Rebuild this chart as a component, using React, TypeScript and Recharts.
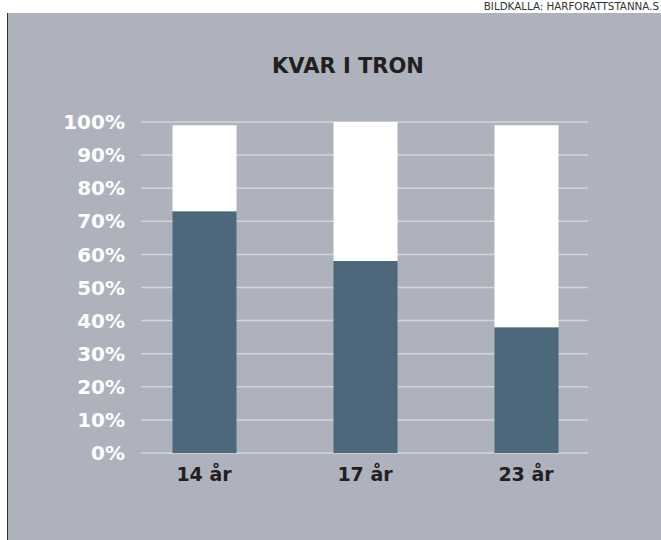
import { Bar, BarChart, CartesianGrid, XAxis, YAxis } from "recharts"

const ages = ["14 år", "17 år", "23 år"]
const kvar = [73, 58, 38]
const rest = [26, 42, 61]
const yTicks = [0, 10, 20, 30, 40, 50, 60, 70, 80, 90, 100]

const data = ages.map((age, i) => ({ age, kvar: kvar[i], rest: rest[i] }))

const font = "'DejaVu Sans', sans-serif"

export default function App() {
  return (
    <div
      style={{
        position: "absolute",
        left: 0,
        top: 0,
        width: 661,
        height: 540,
        overflow: "hidden",
        background: "#ffffff",
        fontFamily: font,
      }}
    >
      <div
        style={{
          position: "absolute",
          right: 2,
          top: 1,
          fontSize: 10.3,
          lineHeight: "11px",
          color: "#333333",
          whiteSpace: "nowrap",
        }}
      >
        BILDKALLA: HARFORATTSTANNA.S
      </div>
      <div
        style={{
          position: "absolute",
          left: 7,
          top: 13,
          width: 654,
          height: 527,
          background: "#adb2bd",
          borderLeft: "1px solid #2e2e2e",
          boxSizing: "border-box",
        }}
      />
      <div
        style={{
          position: "absolute",
          left: 348,
          top: 56,
          transform: "translateX(-50%)",
          fontSize: 21,
          lineHeight: "21px",
          fontWeight: 700,
          color: "#231f20",
          whiteSpace: "nowrap",
        }}
      >
        KVAR I TRON
      </div>
      <div style={{ position: "absolute", left: 0, top: 0 }}>
        <BarChart
          width={661}
          height={540}
          data={data}
          margin={{ top: 122, right: 73, bottom: 47, left: 21 }}
        >
          <CartesianGrid vertical={false} stroke="#d3d5d9" strokeWidth={1.5} />
          <XAxis
            dataKey="age"
            axisLine={false}
            tickLine={false}
            tickSize={0}
            tickMargin={15}
            height={40}
            padding={{ left: -17.5, right: -18.5 }}
            tick={{ fill: "#231f20", fontSize: 19, fontWeight: 700, fontFamily: font }}
          />
          <YAxis
            domain={[0, 100]}
            ticks={yTicks}
            interval={0}
            width={120}
            axisLine={false}
            tickLine={false}
            tickSize={0}
            tickMargin={16}
            tickFormatter={(v) => `${v}%`}
            tick={{ fill: "#ffffff", fontSize: 20, fontWeight: 700, fontFamily: font }}
          />
          <Bar dataKey="kvar" stackId="a" fill="#4d677b" barSize={64} isAnimationActive={false} />
          <Bar dataKey="rest" stackId="a" fill="#ffffff" barSize={64} isAnimationActive={false} />
        </BarChart>
      </div>
    </div>
  )
}
